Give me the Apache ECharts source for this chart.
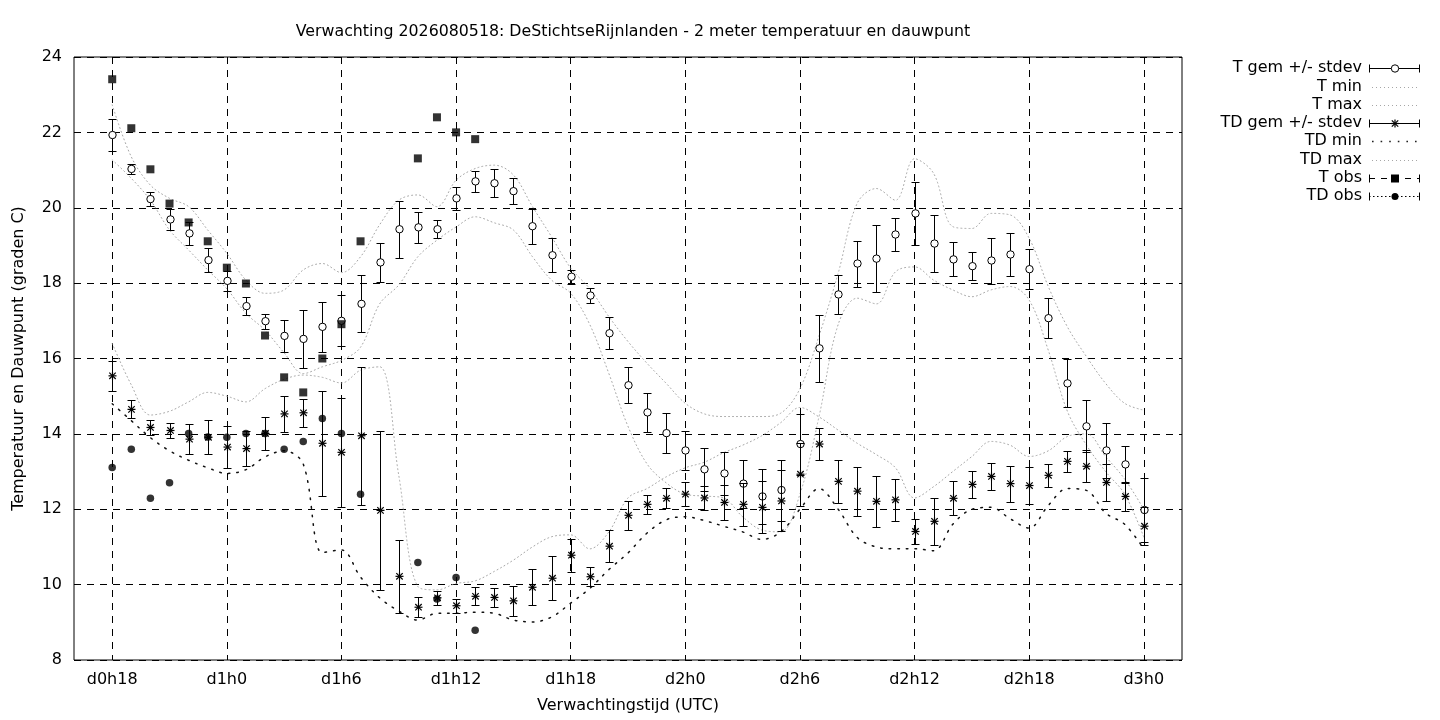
<!DOCTYPE html>
<html>
<head>
<meta charset="utf-8">
<script src="https://cdn.jsdelivr.net/npm/echarts@6/dist/echarts.min.js"></script>
<style>html,body{margin:0;padding:0;background:#fff}#c{width:1440px;height:720px}</style>
</head>
<body>
<div id="c"></div>
<script>
// ---- data (hours since d0h0) ----
const hours = [18,19,20,21,22,23,24,25,26,27,28,29,30,31,32,33,34,35,36,37,38,39,40,41,42,43,44,45,
  46,47,48,49,50,51,52,53,54,55,56,57,58,59,60,61,62,63,64,65,66,67,68,69,70,71,72];
const tMean = [21.93,21.03,20.23,19.69,19.32,18.61,18.06,17.39,16.99,16.60,16.52,16.84,17.00,17.45,18.55,19.43,19.48,19.43,
  20.25,20.70,20.65,20.44,19.51,18.74,18.17,17.67,16.67,15.29,14.57,14.02,13.56,13.06,12.95,12.68,12.34,12.51,13.73,16.27,
  17.70,18.52,18.65,19.29,19.85,19.05,18.63,18.45,18.60,18.76,18.37,17.07,15.34,14.20,13.56,13.19,11.98];
const tStd = [0.42,0.13,0.19,0.27,0.31,0.32,0.27,0.24,0.20,0.42,0.77,0.66,0.68,0.76,0.51,0.76,0.41,0.24,0.30,0.28,0.37,0.34,
  0.46,0.45,0.18,0.21,0.42,0.48,0.52,0.54,0.52,0.57,0.56,0.64,0.72,0.81,0.81,0.89,0.52,0.61,0.89,0.44,0.84,0.76,0.45,0.37,
  0.61,0.57,0.53,0.53,0.64,0.69,0.72,0.50,0.86];
const tMin = [21.27,20.78,20.20,19.41,18.88,18.35,17.85,17.20,16.75,16.15,15.60,15.78,15.95,16.30,17.45,17.95,18.70,19.14,
  19.49,19.76,19.60,19.41,18.70,18.08,17.73,16.90,15.60,14.20,13.20,12.70,12.40,12.35,12.30,11.80,11.45,11.40,12.40,14.46,
  16.90,17.60,17.45,18.30,18.43,18.08,17.82,17.64,17.82,17.91,17.55,16.22,14.60,13.70,13.00,12.40,11.26];
const tMax = [22.73,21.35,20.60,20.25,20.03,19.41,18.79,18.08,17.73,17.82,18.35,18.52,18.28,18.70,19.55,20.20,20.34,20.03,
  20.73,21.04,21.13,20.87,20.03,19.23,18.40,17.85,17.11,16.45,15.87,15.34,14.81,14.53,14.46,14.46,14.46,14.55,15.20,16.60,
  18.26,20.12,20.51,20.20,21.30,20.91,19.50,19.45,19.85,19.81,19.19,17.91,16.84,16.05,15.34,14.81,14.63];
const tdMean = [15.54,14.65,14.17,14.09,13.86,13.91,13.65,13.61,14.01,14.53,14.56,13.75,13.51,13.95,11.97,10.22,9.40,9.65,
  9.44,9.69,9.66,9.57,9.93,10.17,10.78,10.21,11.02,11.84,12.13,12.29,12.40,12.30,12.18,12.13,12.05,12.22,12.93,13.73,
  12.74,12.48,12.21,12.25,11.41,11.68,12.29,12.66,12.87,12.68,12.63,12.90,13.27,13.14,12.71,12.34,11.55];
const tdStd = [0.39,0.24,0.19,0.20,0.40,0.45,0.56,0.46,0.45,0.48,0.37,1.39,1.44,1.83,2.10,0.97,0.27,0.18,0.19,0.24,0.26,0.39,
  0.48,0.58,0.44,0.25,0.42,0.38,0.25,0.27,0.32,0.32,0.46,0.57,0.69,0.81,0.84,0.42,0.58,0.65,0.67,0.55,0.33,0.62,0.45,0.36,
  0.36,0.48,0.50,0.31,0.28,0.43,0.49,0.38,0.50];
const tdMin = [14.80,14.35,13.90,13.55,13.30,13.10,12.95,13.05,13.39,13.55,13.20,10.85,10.92,10.20,9.65,9.30,9.06,9.24,
  9.24,9.27,9.24,9.06,9.01,9.14,9.51,9.90,10.40,10.84,11.37,11.72,11.80,11.70,11.55,11.40,11.20,11.40,12.00,12.55,
  12.00,11.25,11.00,10.95,10.95,10.90,11.60,12.00,12.05,11.75,11.50,12.10,12.55,12.50,11.90,11.60,10.95];
const tdMax = [16.40,15.30,14.50,14.60,14.85,15.10,15.00,14.85,15.20,15.45,15.56,15.50,15.35,15.69,15.78,12.90,9.95,9.86,
  10.03,10.10,10.35,10.65,11.00,11.27,11.32,10.95,11.40,12.30,12.55,12.86,13.10,13.25,13.50,13.70,13.95,14.30,14.70,14.45,
  14.10,13.75,13.45,13.10,12.30,12.60,13.00,13.40,13.80,13.70,13.40,13.55,13.93,14.00,13.40,12.80,12.00];
const obsHours = [18,19,20,21,22,23,24,25,26,27,28,29,30,31,34,35,36,37];
const tObs  = [23.41,22.11,21.02,20.11,19.61,19.11,18.41,17.99,16.61,15.50,15.10,16.00,16.91,19.11,21.31,22.40,22.00,21.82];
const tdObs = [13.11,13.59,12.29,12.70,14.01,13.92,13.91,14.01,14.01,13.59,13.80,14.41,14.01,12.40,10.59,9.62,10.19,8.79];
const xTickValues = [18,24,30,36,42,48,54,60,66,72];
const xTickLabels = ['d0h18','d1h0','d1h6','d1h12','d1h18','d2h0','d2h6','d2h12','d2h18','d3h0'];
const seriesNames = ['T gem +/- stdev','T min','T max','TD gem +/- stdev','TD min','TD max','T obs','TD obs'];

// ---- helpers ----
const FONT = 'DejaVu Sans';
const LIGHT = '#a6a6a6';
const TDMIN_DASH = [1.6, 7];
const zip2 = (xs, ys) => xs.map((x, i) => [x, ys[i]]);
const zip3 = (xs, ys, zs) => xs.map((x, i) => [x, ys[i], zs[i]]);
const px = v => Math.round(v) + 0.5;

function starShape(cx, cy, r) {
  const st = {stroke:'#000', lineWidth:1.2};
  const d = r * 0.8;
  return [
    {type:'line', shape:{x1:cx-r,y1:cy,x2:cx+r,y2:cy}, style:st},
    {type:'line', shape:{x1:cx,y1:cy-r,x2:cx,y2:cy+r}, style:st},
    {type:'line', shape:{x1:cx-d,y1:cy-d,x2:cx+d,y2:cy+d}, style:st},
    {type:'line', shape:{x1:cx-d,y1:cy+d,x2:cx+d,y2:cy-d}, style:st}
  ];
}

function errRender(kind) {
  return function (params, api) {
    const x = api.value(0), m = api.value(1), s = api.value(2);
    const c = api.coord([x, m]);
    const t = api.coord([x, m + s]);
    const b = api.coord([x, m - s]);
    const cx = px(c[0]);
    const w = 4;
    const st = {stroke:'#000', lineWidth:1};
    const ch = [
      {type:'line', shape:{x1:cx,y1:px(t[1]),x2:cx,y2:px(b[1])}, style:st},
      {type:'line', shape:{x1:cx-w,y1:px(t[1]),x2:cx+w,y2:px(t[1])}, style:st},
      {type:'line', shape:{x1:cx-w,y1:px(b[1]),x2:cx+w,y2:px(b[1])}, style:st}
    ];
    if (kind === 'circle') {
      ch.push({type:'circle', shape:{cx:cx, cy:c[1], r:3.7}, style:{fill:'#fff', stroke:'#000', lineWidth:1}});
    } else {
      starShape(cx, c[1], 4).forEach(e => ch.push(e));
    }
    return {type:'group', children:ch};
  };
}

function lineSeries(name, ys, color, dash, width) {
  return {
    name, type:'line', data: zip2(hours, ys), showSymbol:false, symbol:'none', smooth:0.35,
    lineStyle:{color, width, type:dash, cap:'round'}, z:2, silent:true
  };
}

// ---- legend (custom graphic, gnuplot style) ----
const LX1 = 1369, LX2 = 1420, LXM = 1395, LTX = 1362;
const rowY = [68, 86.5, 104.5, 123, 141, 159.5, 177.5, 196];
const legend = [];
seriesNames.forEach((n, i) => {
  legend.push({type:'text', x:LTX, y:rowY[i], style:{text:n, font:'16px "' + FONT + '"', fill:'#000', align:'right', verticalAlign:'middle'}});
});
function capLine(y, dash) {
  const st = {stroke:'#000', lineWidth:1, lineDash:dash || null};
  return [
    {type:'line', shape:{x1:LX1,y1:y,x2:LX2,y2:y}, style:st},
    {type:'line', shape:{x1:LX1+0.5,y1:y-4,x2:LX1+0.5,y2:y+4}, style:{stroke:'#000', lineWidth:1}},
    {type:'line', shape:{x1:LX2-0.5,y1:y-4,x2:LX2-0.5,y2:y+4}, style:{stroke:'#000', lineWidth:1}}
  ];
}
capLine(px(rowY[0])).forEach(e => legend.push(e));
legend.push({type:'circle', shape:{cx:LXM, cy:px(rowY[0]), r:3.7}, style:{fill:'#fff', stroke:'#000', lineWidth:1}});
[1,2,5].forEach(i => legend.push({type:'line', shape:{x1:1372,y1:px(rowY[i]),x2:1418,y2:px(rowY[i])}, style:{stroke:LIGHT, lineWidth:1, lineDash:[1,3]}}));
capLine(px(rowY[3])).forEach(e => legend.push(e));
starShape(LXM, px(rowY[3]), 4).forEach(e => legend.push(e));
legend.push({type:'line', shape:{x1:1372,y1:px(rowY[4]),x2:1418,y2:px(rowY[4])}, style:{stroke:'#222', lineWidth:1.5, lineDash:TDMIN_DASH}});
capLine(px(rowY[6]), [6,6]).forEach(e => legend.push(e));
legend.push({type:'rect', shape:{x:LXM-4, y:px(rowY[6])-4, width:8, height:8}, style:{fill:'#000'}});
capLine(px(rowY[7]), [1.5,2.5]).forEach(e => legend.push(e));
legend.push({type:'circle', shape:{cx:LXM, cy:px(rowY[7]), r:3.5}, style:{fill:'#000'}});

// ---- chart ----
const chart = echarts.init(document.getElementById('c'));
chart.setOption({
  animation:false,
  backgroundColor:'#fff',
  textStyle:{fontFamily:FONT},
  title:{
    text:'Verwachting 2026080518: DeStichtseRijnlanden - 2 meter temperatuur en dauwpunt',
    left:628, top:19, textAlign:'center',
    textStyle:{fontFamily:FONT, fontSize:15.8, fontWeight:'normal', color:'#000'}
  },
  grid:{left:74, right:258, top:57, bottom:60, show:true, borderColor:'#000', borderWidth:1, backgroundColor:'transparent'},
  xAxis:{
    type:'value', min:16, max:74,
    name:'Verwachtingstijd (UTC)', nameLocation:'middle', nameGap:38,
    nameTextStyle:{fontFamily:FONT, fontSize:16, color:'#000'},
    axisLine:{show:false},
    axisTick:{show:false, customValues:xTickValues},
    axisLabel:{customValues:xTickValues, color:'#000', fontFamily:FONT, fontSize:16, margin:12,
      formatter: v => { const i = xTickValues.indexOf(v); return i >= 0 ? xTickLabels[i] : ''; }},
    splitLine:{show:true, lineStyle:{color:'#000', width:1, type:[7,6]}}
  },
  yAxis:{
    type:'value', min:8, max:24, interval:2,
    name:'Temperatuur en Dauwpunt (graden C)', nameLocation:'middle', nameGap:47,
    nameTextStyle:{fontFamily:FONT, fontSize:16, color:'#000'},
    axisLine:{show:false}, axisTick:{show:false},
    axisLabel:{color:'#000', fontFamily:FONT, fontSize:16, margin:12},
    splitLine:{show:true, lineStyle:{color:'#000', width:1, type:[7,6]}}
  },
  graphic:legend,
  series:[
    {name:seriesNames[0], type:'custom', renderItem:errRender('circle'), data:zip3(hours, tMean, tStd), encode:{x:0, y:1}, z:3, clip:true},
    lineSeries(seriesNames[1], tMin, LIGHT, [1,3], 1),
    lineSeries(seriesNames[2], tMax, LIGHT, [1,3], 1),
    {name:seriesNames[3], type:'custom', renderItem:errRender('star'), data:zip3(hours, tdMean, tdStd), encode:{x:0, y:1}, z:4, clip:true},
    lineSeries(seriesNames[4], tdMin, '#111', TDMIN_DASH, 1.5),
    lineSeries(seriesNames[5], tdMax, LIGHT, [1,3], 1),
    {name:seriesNames[6], type:'scatter', data:zip2(obsHours, tObs), symbol:'rect', symbolSize:8, itemStyle:{color:'#000'}, z:5},
    {name:seriesNames[7], type:'scatter', data:zip2(obsHours, tdObs), symbol:'circle', symbolSize:7.5, itemStyle:{color:'#000'}, z:5}
  ]
});
</script>
</body>
</html>
